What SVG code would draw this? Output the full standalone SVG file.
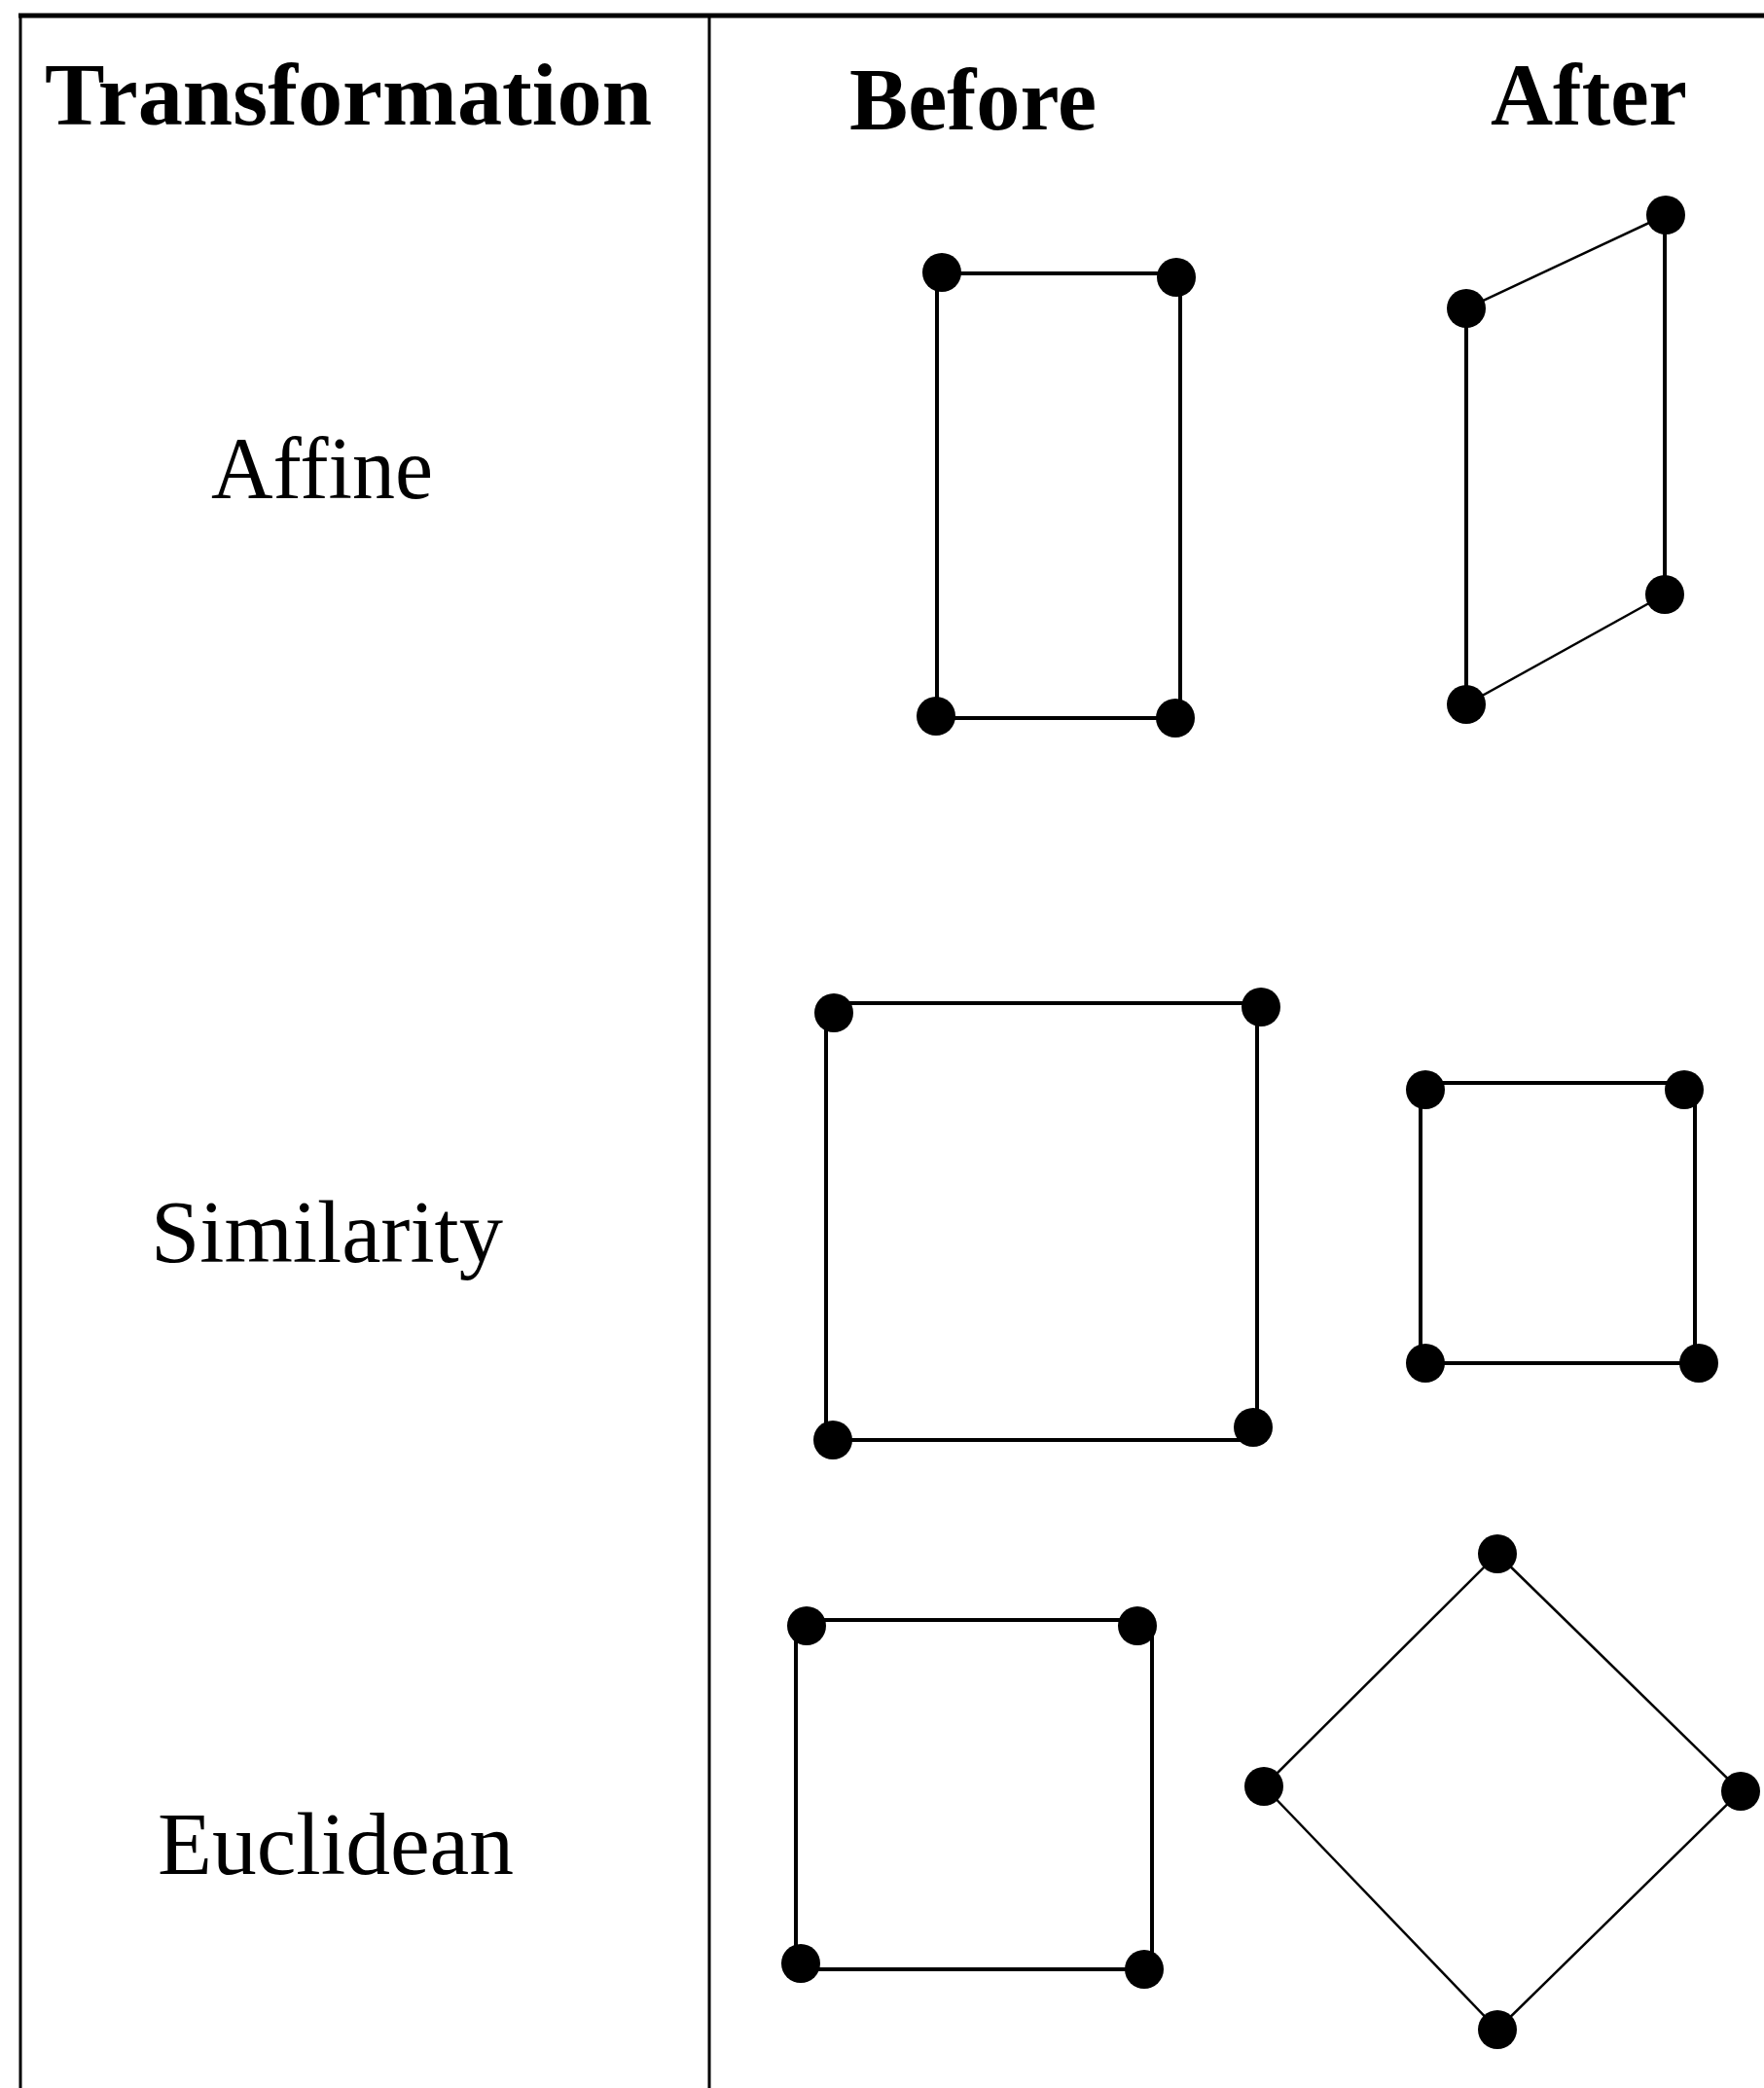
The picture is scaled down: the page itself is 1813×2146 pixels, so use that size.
<svg xmlns="http://www.w3.org/2000/svg" width="1813" height="2146" viewBox="0 0 1813 2146">
<style>
.grid{stroke:#000;fill:none}
.hdr{font-family:"Liberation Serif","Times New Roman",serif;font-weight:bold;font-size:90px;fill:#000}
.lbl{font-family:"Liberation Serif","Times New Roman",serif;font-size:90px;fill:#000}
.e{stroke:#000;stroke-width:4;fill:none}
.d{stroke:#000;stroke-width:2.5;fill:none}
.dot{fill:#000}
</style>
<rect width="1813" height="2146" fill="#fff"/>
<g id="table">
<line class="grid" x1="19" y1="16" x2="1813" y2="16" stroke-width="5"/>
<line class="grid" x1="21" y1="14" x2="21" y2="2146" stroke-width="3"/>
<line class="grid" x1="729" y1="16" x2="729" y2="2146" stroke-width="3"/>
</g>
<g id="headers">
<text class="hdr" x="46" y="128" textLength="624" lengthAdjust="spacingAndGlyphs">Transformation</text>
<text class="hdr" x="873" y="133" textLength="254" lengthAdjust="spacingAndGlyphs">Before</text>
<text class="hdr" x="1532" y="128" textLength="202" lengthAdjust="spacingAndGlyphs">After</text>
</g>
<g id="row-labels">
<text class="lbl" x="217" y="512" textLength="228" lengthAdjust="spacingAndGlyphs">Affine</text>
<text class="lbl" x="155" y="1297" textLength="362" lengthAdjust="spacingAndGlyphs">Similarity</text>
<text class="lbl" x="162" y="1926" textLength="366" lengthAdjust="spacingAndGlyphs">Euclidean</text>
</g>
<g id="connectors">
<!-- affine before -->
<line class="e" x1="967" y1="281" x2="1209" y2="281"/>
<line class="e" x1="963" y1="280" x2="963" y2="736"/>
<line class="e" x1="1213" y1="285" x2="1213" y2="738"/>
<line class="e" x1="962" y1="738" x2="1208" y2="738"/>
<!-- affine after -->
<line class="d" x1="1507" y1="317" x2="1712" y2="221"/>
<line class="e" x1="1507" y1="317" x2="1507" y2="724"/>
<line class="e" x1="1711" y1="221" x2="1711" y2="611"/>
<line class="d" x1="1507" y1="724" x2="1711" y2="611"/>
<!-- similarity before -->
<line class="e" x1="857" y1="1031" x2="1296" y2="1031"/>
<line class="e" x1="849" y1="1041" x2="849" y2="1480"/>
<line class="e" x1="1292" y1="1035" x2="1292" y2="1467"/>
<line class="e" x1="855" y1="1480" x2="1288" y2="1480"/>
<!-- similarity after -->
<line class="e" x1="1465" y1="1113" x2="1731" y2="1113"/>
<line class="e" x1="1460" y1="1120" x2="1460" y2="1401"/>
<line class="e" x1="1742" y1="1120" x2="1742" y2="1401"/>
<line class="e" x1="1465" y1="1401" x2="1746" y2="1401"/>
<!-- euclidean before -->
<line class="e" x1="829" y1="1665" x2="1169" y2="1665"/>
<line class="e" x1="818" y1="1671" x2="818" y2="2018"/>
<line class="e" x1="1184" y1="1671" x2="1184" y2="2024"/>
<line class="e" x1="823" y1="2024" x2="1176" y2="2024"/>
<!-- euclidean after -->
<line class="d" x1="1539" y1="1597" x2="1299" y2="1836"/>
<line class="d" x1="1539" y1="1597" x2="1789" y2="1841"/>
<line class="d" x1="1299" y1="1836" x2="1539" y2="2086"/>
<line class="d" x1="1789" y1="1841" x2="1539" y2="2086"/>
</g>
<g id="affine-before">
<circle class="dot" cx="968" cy="280" r="20"/>
<circle class="dot" cx="1209" cy="285" r="20"/>
<circle class="dot" cx="962" cy="736" r="20"/>
<circle class="dot" cx="1208" cy="738" r="20"/>
</g>
<g id="affine-after">
<circle class="dot" cx="1712" cy="221" r="20"/>
<circle class="dot" cx="1507" cy="317" r="20"/>
<circle class="dot" cx="1711" cy="611" r="20"/>
<circle class="dot" cx="1507" cy="724" r="20"/>
</g>
<g id="similarity-before">
<circle class="dot" cx="857" cy="1041" r="20"/>
<circle class="dot" cx="1296" cy="1035" r="20"/>
<circle class="dot" cx="856" cy="1480" r="20"/>
<circle class="dot" cx="1288" cy="1467" r="20"/>
</g>
<g id="similarity-after">
<circle class="dot" cx="1465" cy="1120" r="20"/>
<circle class="dot" cx="1731" cy="1120" r="20"/>
<circle class="dot" cx="1465" cy="1401" r="20"/>
<circle class="dot" cx="1746" cy="1401" r="20"/>
</g>
<g id="euclidean-before">
<circle class="dot" cx="829" cy="1671" r="20"/>
<circle class="dot" cx="1169" cy="1671" r="20"/>
<circle class="dot" cx="823" cy="2018" r="20"/>
<circle class="dot" cx="1176" cy="2024" r="20"/>
</g>
<g id="euclidean-after">
<circle class="dot" cx="1539" cy="1597" r="20"/>
<circle class="dot" cx="1299" cy="1836" r="20"/>
<circle class="dot" cx="1789" cy="1841" r="20"/>
<circle class="dot" cx="1539" cy="2086" r="20"/>
</g>
</svg>
